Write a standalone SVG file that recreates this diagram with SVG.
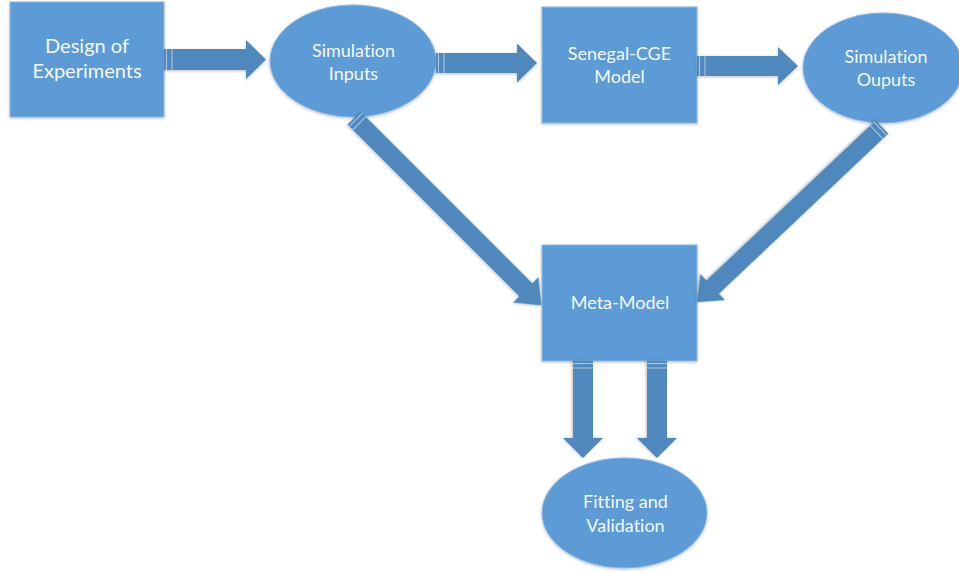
<svg xmlns="http://www.w3.org/2000/svg" width="959" height="572" viewBox="0 0 959 572">
  <defs>
    <filter id="sh" x="-10%" y="-10%" width="120%" height="120%">
      <feDropShadow dx="0" dy="1" stdDeviation="1.5" flood-color="#000" flood-opacity="0.25"/>
    </filter>
  </defs>
  <style>
    .node { fill: #5B9BD5; stroke: #8DB8E2; stroke-width: 1; filter: url(#sh); }
    .arrow { fill: #4F88BC; filter: url(#sh); }
    .stripe { stroke: #A7C6E4; stroke-width: 1.1; }
    .lbl { font-family: Lato, "Open Sans", "Liberation Sans", sans-serif; font-size: 18px; fill: #F5F9FD; text-anchor: middle; font-variant-ligatures: none; font-feature-settings: "liga" 0; }
    .big { font-size: 20px; }
  </style>
  <rect width="959" height="572" fill="#FFFFFF"/>

  <g id="design-of-experiments">
    <rect class="node" x="10" y="2" width="154" height="115"/>
    <text class="lbl big" x="87" y="53">Design of</text>
    <text class="lbl big" x="87" y="78">Experiments</text>
  </g>

  <g id="simulation-inputs">
    <ellipse class="node" cx="353" cy="61" rx="83" ry="56"/>
    <text class="lbl" x="353.5" y="57">Simulation</text>
    <text class="lbl" x="353.5" y="80">Inputs</text>
  </g>

  <g id="senegal-cge-model">
    <rect class="node" x="542" y="7" width="155" height="116"/>
    <text class="lbl" x="619.5" y="60">Senegal-CGE</text>
    <text class="lbl" x="619.5" y="83">Model</text>
  </g>

  <g id="simulation-outputs">
    <ellipse class="node" cx="883" cy="68" rx="80" ry="55"/>
    <text class="lbl" x="886" y="63">Simulation</text>
    <text class="lbl" x="886" y="86">Ouputs</text>
  </g>

  <g id="meta-model">
    <rect class="node" x="542" y="245" width="155" height="116"/>
    <text class="lbl" x="620" y="309">Meta-Model</text>
  </g>

  <g id="fitting-and-validation">
    <ellipse class="node" cx="624.5" cy="513" rx="82.5" ry="55"/>
    <text class="lbl" x="625.5" y="508">Fitting and</text>
    <text class="lbl" x="625.5" y="532">Validation</text>
  </g>

  <g id="connectors">
    <g transform="translate(164,59.5)">
      <polygon class="arrow" points="0,-10.5 82,-10.5 82,-19.5 102,0 82,19.5 82,10.5 0,10.5"/>
      <line class="stripe" x1="2.5" y1="-10.5" x2="2.5" y2="10.5"/>
      <line class="stripe" x1="8" y1="-10.5" x2="8" y2="10.5"/>
    </g>
    <g transform="translate(436,63)">
      <polygon class="arrow" points="0,-10 81,-10 81,-19.5 101,0 81,19.5 81,10 0,10"/>
      <line class="stripe" x1="2.5" y1="-10" x2="2.5" y2="10"/>
      <line class="stripe" x1="8" y1="-10" x2="8" y2="10"/>
    </g>
    <g transform="translate(697,66)">
      <polygon class="arrow" points="0,-10 81,-10 81,-19 101,0 81,19 81,10 0,10"/>
      <line class="stripe" x1="2.5" y1="-10" x2="2.5" y2="10"/>
      <line class="stripe" x1="8" y1="-10" x2="8" y2="10"/>
    </g>
    <g transform="translate(354,118) rotate(45)">
      <polygon class="arrow" points="0,-9.3 243,-9.3 243,-18 265,0 243,18 243,9.3 0,9.3"/>
      <line class="stripe" x1="2.5" y1="-9.3" x2="2.5" y2="9.3"/>
      <line class="stripe" x1="7.5" y1="-9.3" x2="7.5" y2="9.3"/>
    </g>
    <g transform="translate(882,127) rotate(136.6)">
      <polygon class="arrow" points="0,-9.3 233,-9.3 233,-18 255,0 233,18 233,9.3 0,9.3"/>
      <line class="stripe" x1="2.5" y1="-9.3" x2="2.5" y2="9.3"/>
      <line class="stripe" x1="7.5" y1="-9.3" x2="7.5" y2="9.3"/>
    </g>
    <g transform="translate(583,361) rotate(90)">
      <polygon class="arrow" points="0,-10 77,-10 77,-20 97,0 77,20 77,10 0,10"/>
      <line class="stripe" x1="2.5" y1="-10" x2="2.5" y2="10"/>
      <line class="stripe" x1="7" y1="-10" x2="7" y2="10"/>
    </g>
    <g transform="translate(657,361) rotate(90)">
      <polygon class="arrow" points="0,-10 77,-10 77,-20 97,0 77,20 77,10 0,10"/>
      <line class="stripe" x1="2.5" y1="-10" x2="2.5" y2="10"/>
      <line class="stripe" x1="7" y1="-10" x2="7" y2="10"/>
    </g>
  </g>
</svg>
